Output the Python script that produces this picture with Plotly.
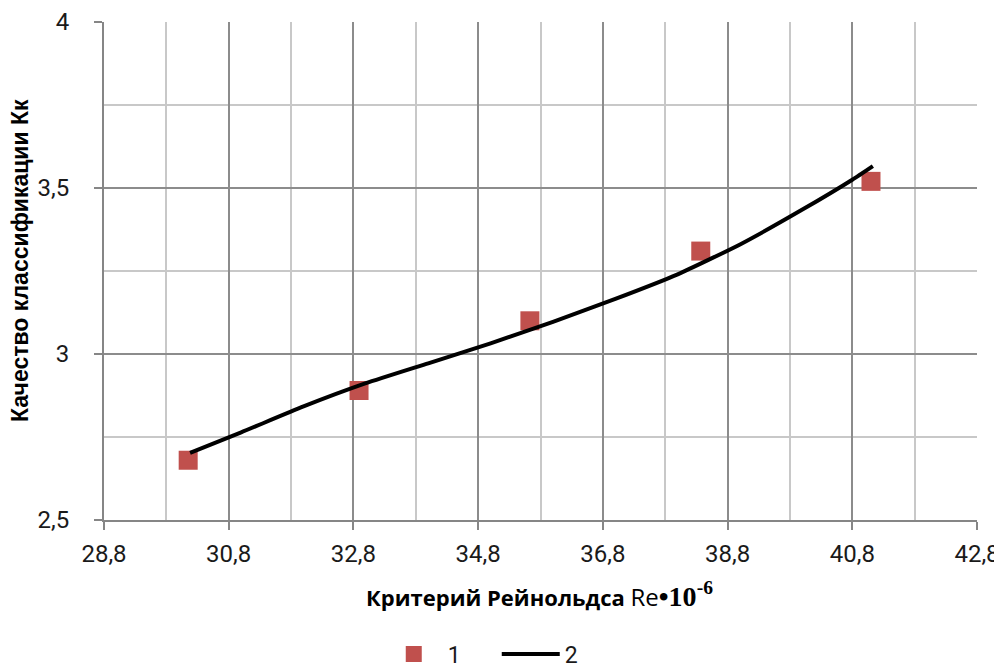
import plotly.graph_objects as go

# Experimental points (series 1)
re_points = [30.15, 32.89, 35.63, 38.37, 41.10]
kk_points = [2.68, 2.89, 3.10, 3.31, 3.52]

# Fitted curve (series 2)
re_curve = [30.18, 31.0, 32.0, 33.0, 34.0, 35.0, 36.0, 37.0, 38.0, 39.0, 40.0, 40.8, 41.13]
kk_curve = [2.702, 2.764, 2.842, 2.912, 2.972, 3.032, 3.097, 3.166, 3.240, 3.330, 3.435, 3.525, 3.566]

legend_names = ["1", "2"]

x_title = ("<b>Критерий Рейнольдса</b> <span style='font-size:24px'>Re</span>"
           "<b><span style='font-family:Liberation Serif;font-size:28px'>•10<sup>-6</sup></span></b>")
y_title = "<b>Качество классификации Кк</b>"

# page body adds an 8px offset; figure sized so the window shows 1002x670
W, H = 994, 662
L, T, PW, PH = 96, 14, 873, 498

tick_font = dict(family="Roboto, sans-serif", size=24, color="#1a1a1a")

fig = go.Figure()
fig.add_trace(go.Scatter(
    x=re_points, y=kk_points, mode="markers", name=legend_names[0],
    marker=dict(symbol="square", size=19, color="#c0504d", line=dict(width=0)),
))
fig.add_trace(go.Scatter(
    x=re_curve, y=kk_curve, mode="lines", name=legend_names[1],
    line=dict(color="black", width=4, shape="spline", smoothing=0.5),
))

fig.update_layout(
    width=W, height=H,
    margin=dict(l=L, r=W - L - PW, t=T, b=H - T - PH, autoexpand=False),
    paper_bgcolor="white", plot_bgcolor="white",
    separators=", ",
    showlegend=True,
    legend=dict(orientation="h", x=0.374, xanchor="left", xref="container",
                y=(H - 646) / H, yanchor="middle", yref="container",
                font=dict(family="Roboto, sans-serif", size=23, color="#1a1a1a"),
                itemwidth=58, entrywidth=44, entrywidthmode="pixels", tracegroupgap=0),
    annotations=[
        dict(text=x_title, xref="paper", yref="paper", x=(531 - L) / PW, y=(T + PH - 587) / PH,
             xanchor="center", yanchor="middle", showarrow=False,
             font=dict(family="Open Sans, sans-serif", size=22, color="black")),
        dict(text=y_title, xref="paper", yref="paper", x=(12 - L) / PW, y=(T + PH - 253) / PH,
             xanchor="center", yanchor="middle", showarrow=False, textangle=-90,
             font=dict(family="Liberation Sans, Arial, sans-serif", size=23, color="black")),
    ],
)

fig.update_xaxes(
    range=[28.8, 42.8], tick0=28.8, dtick=2, tickformat=".1f", automargin=False,
    showline=True, linecolor="#868686", linewidth=2,
    ticks="outside", ticklen=8, tickcolor="#868686", tickwidth=2, ticklabelstandoff=3,
    ticklabeloverflow="allow",
    showgrid=True, gridcolor="#8c8c8c", gridwidth=2,
    minor=dict(tick0=28.8, dtick=1, showgrid=True, gridcolor="#c8c8c8", gridwidth=2, ticks=""),
    tickfont=tick_font, zeroline=False,
)
fig.update_yaxes(
    range=[2.5, 4.0], tick0=2.5, dtick=0.5, automargin=False,
    showline=True, linecolor="#868686", linewidth=2,
    ticks="outside", ticklen=8, tickcolor="#868686", tickwidth=2, ticklabelstandoff=20,
    showgrid=True, gridcolor="#8c8c8c", gridwidth=2,
    minor=dict(dtick=0.25, showgrid=True, gridcolor="#c8c8c8", gridwidth=2, ticks=""),
    tickfont=tick_font, zeroline=False,
)

fig.write_html("out.html")
